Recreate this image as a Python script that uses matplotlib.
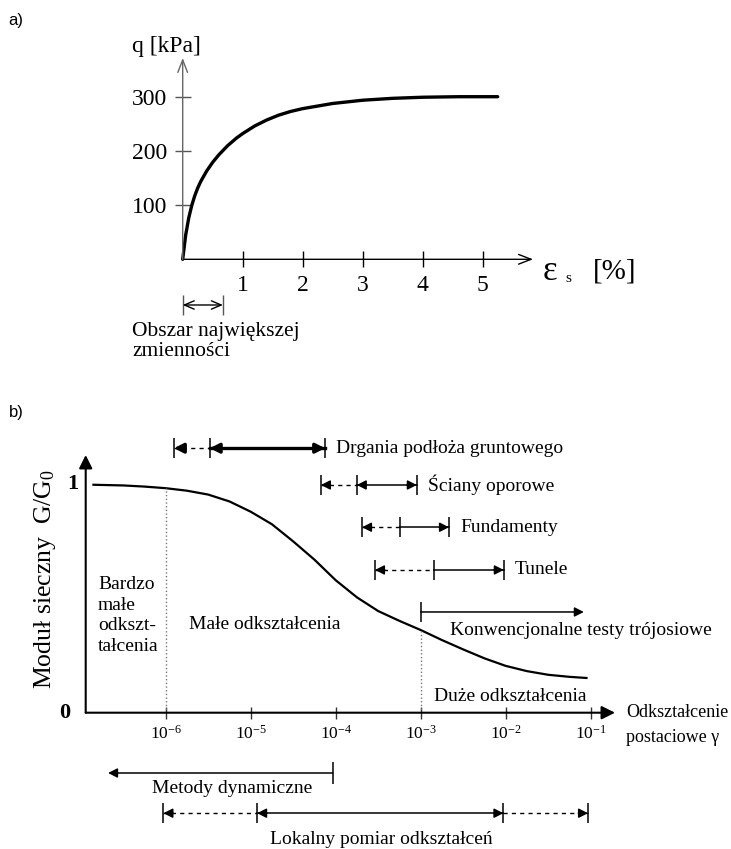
import numpy as np
import matplotlib.pyplot as plt
from matplotlib.ticker import NullLocator

plt.rcParams['font.family'] = ['Liberation Serif', 'DejaVu Serif']
plt.rcParams['mathtext.fontset'] = 'custom'
plt.rcParams['mathtext.rm'] = 'Liberation Serif'

# --- data, panel a: stress-strain curve
strain_a = [0, 0.05, 0.1, 0.15, 0.2, 0.25, 0.3, 0.4, 0.5, 0.6, 0.75, 0.9, 1.0,
            1.2, 1.4, 1.6, 1.8, 2.0, 2.5, 3.0, 3.5, 4.0, 4.6, 5.25]
q_a = [0, 45, 76, 99, 117, 131.5, 143.5, 163, 179, 192.5, 209.8, 224, 232,
       246, 257, 266, 272.8, 278, 287.5, 293.5, 297, 299, 300, 300]
xticks_a = [1, 2, 3, 4, 5]
yticks_a = [100, 200, 300]
obszar_range = [0, 0.67]

# --- data, panel b: G/G0 degradation curve (strain read as log10)
log_strain_b = [-6.85, -6.5, -6.25, -6.0, -5.75, -5.5, -5.25, -5.0, -4.75,
                -4.5, -4.25, -4.0, -3.75, -3.5, -3.25, -3.0, -2.75, -2.5,
                -2.25, -2.0, -1.75, -1.5, -1.25, -1.05]
g_ratio = [0.998, 0.995, 0.99, 0.983, 0.972, 0.955, 0.925, 0.88, 0.825,
           0.75, 0.67, 0.58, 0.505, 0.445, 0.402, 0.362, 0.318, 0.277,
           0.238, 0.205, 0.182, 0.166, 0.157, 0.152]
xticks_b = [1e-6, 1e-5, 1e-4, 1e-3, 1e-2, 1e-1]
xtick_exp = [-6, -5, -4, -3, -2, -1]
zone_limits = [1e-6, 1e-3]

drgania_x = [1.25e-6, 3.3e-6, 7.5e-5]
sciany_x = [6.7e-5, 1.77e-4, 9.0e-4]
fundamenty_x = [2.04e-4, 5.7e-4, 2.15e-3]
tunele_x = [2.9e-4, 1.45e-3, 9.5e-3]
konw_x = [1e-3, 8.3e-2]
metody_x = [9.2e-5, 2.1e-7]
lokalny_x = [9.4e-7, 1.19e-5, 9.4e-3, 9.3e-2]

W, H = 731, 849


def box(l, t, r, b):
    return [l / W, 1 - b / H, (r - l) / W, (b - t) / H]


def axis_arrows(ax, style, lw, xcolor, ycolor):
    ax.annotate('', xy=(1, 0), xytext=(0, 0), xycoords='axes fraction',
                arrowprops=dict(arrowstyle=style, lw=lw, color=xcolor,
                                shrinkA=0, shrinkB=0))
    ax.annotate('', xy=(0, 1), xytext=(0, 0), xycoords='axes fraction',
                arrowprops=dict(arrowstyle=style, lw=lw, color=ycolor,
                                shrinkA=0, shrinkB=0))
    for s in ax.spines.values():
        s.set_visible(False)


def head(ax, x, y, d, lw):
    # short arrow ending at x, d=+1 points right, d=-1 points left
    ax.annotate('', xy=(x, y), xytext=(-7 * d, 0), textcoords='offset points',
                arrowprops=dict(arrowstyle='-|>,head_length=0.55,head_width=0.28',
                                color='k', lw=lw, shrinkA=0, shrinkB=0),
                annotation_clip=False)


def range_bar(ax, y, xs, styles, heads, label=None, lw=1.1):
    for i, ls in enumerate(styles):
        if ls == '-':
            ax.plot(xs[i:i + 2], [y, y], color='k', lw=lw, clip_on=False)
        else:
            ax.plot(xs[i:i + 2], [y, y], color='k', lw=1.0, ls=(0, (3, 3)),
                    clip_on=False)
    ax.vlines(xs, y - 0.044, y + 0.044, color='k', lw=1.1, clip_on=False)
    for i, d in heads:
        head(ax, xs[i], y, d, lw)
    if label:
        ax.annotate(label, xy=(xs[-1], y), xytext=(8, 0), textcoords='offset points',
                    va='center', ha='left', fontsize=14, annotation_clip=False)


fig = plt.figure(figsize=(7.31, 8.49), dpi=100)

# ---------------- panel a
ax_a = fig.add_axes(box(182.7, 58, 533, 259.3))
ax_a.set_xlim(0, (533 - 182.7) / 60)
ax_a.set_ylim(0, (259.3 - 58) / (162.6 / 300))
axis_arrows(ax_a, '->,head_length=0.9,head_width=0.35', 1.0, 'k', '#666666')

ax_a.plot(strain_a, q_a, color='k', lw=2.4, solid_capstyle='round',
          solid_joinstyle='round', clip_on=False)

ax_a.set_xticks(xticks_a)
ax_a.set_yticks(yticks_a)
ax_a.tick_params(axis='x', direction='inout', length=11, width=1, color='k',
                 labelsize=17, pad=6)
ax_a.tick_params(axis='y', direction='inout', length=12, width=1, color='#555555',
                 labelsize=17, pad=5)

ax_a.text(-0.845, 393, 'q [kPa]', fontsize=17, va='center', ha='left')
ax_a.text(6.0, -23, 'ε', fontsize=25, va='center', ha='left')
ax_a.text(6.37, -36, 's', fontsize=11, va='center', ha='left')
ax_a.text(6.84, -23, '[%]', fontsize=21, va='center', ha='left')

ax_a.vlines(obszar_range, -102.7, -65.8, color='#555555', lw=1, clip_on=False)
ax_a.annotate('', xy=(obszar_range[1], -84.3), xytext=(obszar_range[0], -84.3),
              arrowprops=dict(arrowstyle='<->,head_length=0.7,head_width=0.3',
                              lw=1, color='k', shrinkA=0, shrinkB=0),
              annotation_clip=False)
ax_a.text(-0.845, -134, 'Obszar największej', fontsize=15.5, va='center', ha='left')
ax_a.text(-0.845, -171, 'zmienności', fontsize=15.5, va='center', ha='left')

fig.text(8 / W, 1 - 20 / H, 'a)', family='Liberation Sans', fontsize=12, va='center')

# ---------------- panel b
ax_b = fig.add_axes(box(85.7, 455, 615, 712.7))
ax_b.set_xscale('log')
ax_b.set_xlim(10 ** (-6 - 80 / 85), 10 ** (-6 + 449.3 / 85))
ax_b.set_ylim(0, (712.7 - 455) / 228.4)
axis_arrows(ax_b, '-|>,head_length=0.8,head_width=0.4', 1.5, 'k', 'k')

strain_b = 10.0 ** np.array(log_strain_b)
ax_b.plot(strain_b, g_ratio, color='k', lw=1.6, solid_joinstyle='round')

tops = np.interp(np.log10(zone_limits), log_strain_b, g_ratio)
ax_b.vlines(zone_limits, 0, tops, color='#777777', lw=1, ls=':')

ax_b.set_xticks(xticks_b)
ax_b.set_xticklabels([f'$\\mathregular{{10^{{{e}}}}}$' for e in xtick_exp])
ax_b.xaxis.set_minor_locator(NullLocator())
ax_b.set_yticks([])
ax_b.tick_params(axis='x', direction='inout', length=8, width=1, color='#333333',
                 labelsize=12.5, pad=5)

ax_b.annotate('1', xy=(0, 1), xycoords=('axes fraction', 'data'), xytext=(-5, 0),
              textcoords='offset points', ha='right', va='center', fontsize=16,
              fontweight='bold')
ax_b.annotate('0', xy=(0, 0), xycoords=('axes fraction', 'data'), xytext=(-11, 0),
              textcoords='offset points', ha='right', va='center', fontsize=16,
              fontweight='bold')
ax_b.text(-0.077, 0.52, 'Moduł sieczny  G/G$\\mathregular{_0}$', transform=ax_b.transAxes,
          rotation=90, va='center', ha='center', fontsize=18.5)

range_bar(ax_b, 1.158, drgania_x, ['--', '-'], [(0, -1), (1, -1), (2, 1)],
          'Drgania podłoża gruntowego', lw=2.4)
range_bar(ax_b, 0.997, sciany_x, ['--', '-'], [(0, -1), (1, -1), (2, 1)],
          'Ściany oporowe')
range_bar(ax_b, 0.812, fundamenty_x, ['--', '-'], [(0, -1), (2, 1)], 'Fundamenty')
range_bar(ax_b, 0.625, tunele_x, ['--', '-'], [(0, -1), (2, 1)], 'Tunele')

# conventional triaxial tests
ax_b.vlines(konw_x[0], 0.441 - 0.044, 0.441 + 0.044, color='k', lw=1.1)
ax_b.annotate('', xy=(konw_x[1], 0.441), xytext=(konw_x[0], 0.441),
              arrowprops=dict(arrowstyle='-|>,head_length=0.55,head_width=0.28',
                              color='k', lw=1.1, shrinkA=0, shrinkB=0),
              annotation_clip=False)
ax_b.text(2.2e-3, 0.362, 'Konwencjonalne testy trójosiowe', fontsize=14,
          va='center', ha='left')

# dynamic methods
ax_b.vlines(metody_x[0], -0.264 - 0.047, -0.264 + 0.047, color='k', lw=1.1,
            clip_on=False)
ax_b.annotate('', xy=(metody_x[1], -0.264), xytext=(metody_x[0], -0.264),
              arrowprops=dict(arrowstyle='-|>,head_length=0.55,head_width=0.28',
                              color='k', lw=1.1, shrinkA=0, shrinkB=0),
              annotation_clip=False)
ax_b.text(6.1e-6, -0.33, 'Metody dynamiczne', fontsize=14, va='center',
          ha='center', clip_on=False)

range_bar(ax_b, -0.44, lokalny_x, ['--', '-', '--'],
          [(0, -1), (1, -1), (2, 1), (3, 1)])
ax_b.text(3.4e-4, -0.553, 'Lokalny pomiar odkształceń', fontsize=14, va='center',
          ha='center', clip_on=False)

ax_b.text(1.6e-7, 0.4256, 'Bardzo\nmałe\nodkszt-\ntałcenia', fontsize=14,
          va='center', ha='left', linespacing=1.3)
ax_b.text(1.9e-6, 0.384, 'Małe odkształcenia', fontsize=14, va='center', ha='left')
ax_b.text(1.43e-3, 0.073, 'Duże odkształcenia', fontsize=14, va='center', ha='left')
ax_b.text(0.262, 0.0, 'Odkształcenie', fontsize=13, va='center', ha='left',
          clip_on=False)
ax_b.text(0.262, -0.107, 'postaciowe γ', fontsize=13, va='center', ha='left',
          clip_on=False)

fig.text(9 / W, 1 - 412 / H, 'b)', family='Liberation Sans', fontsize=12, va='center')

fig.savefig('out.png', dpi=100)
